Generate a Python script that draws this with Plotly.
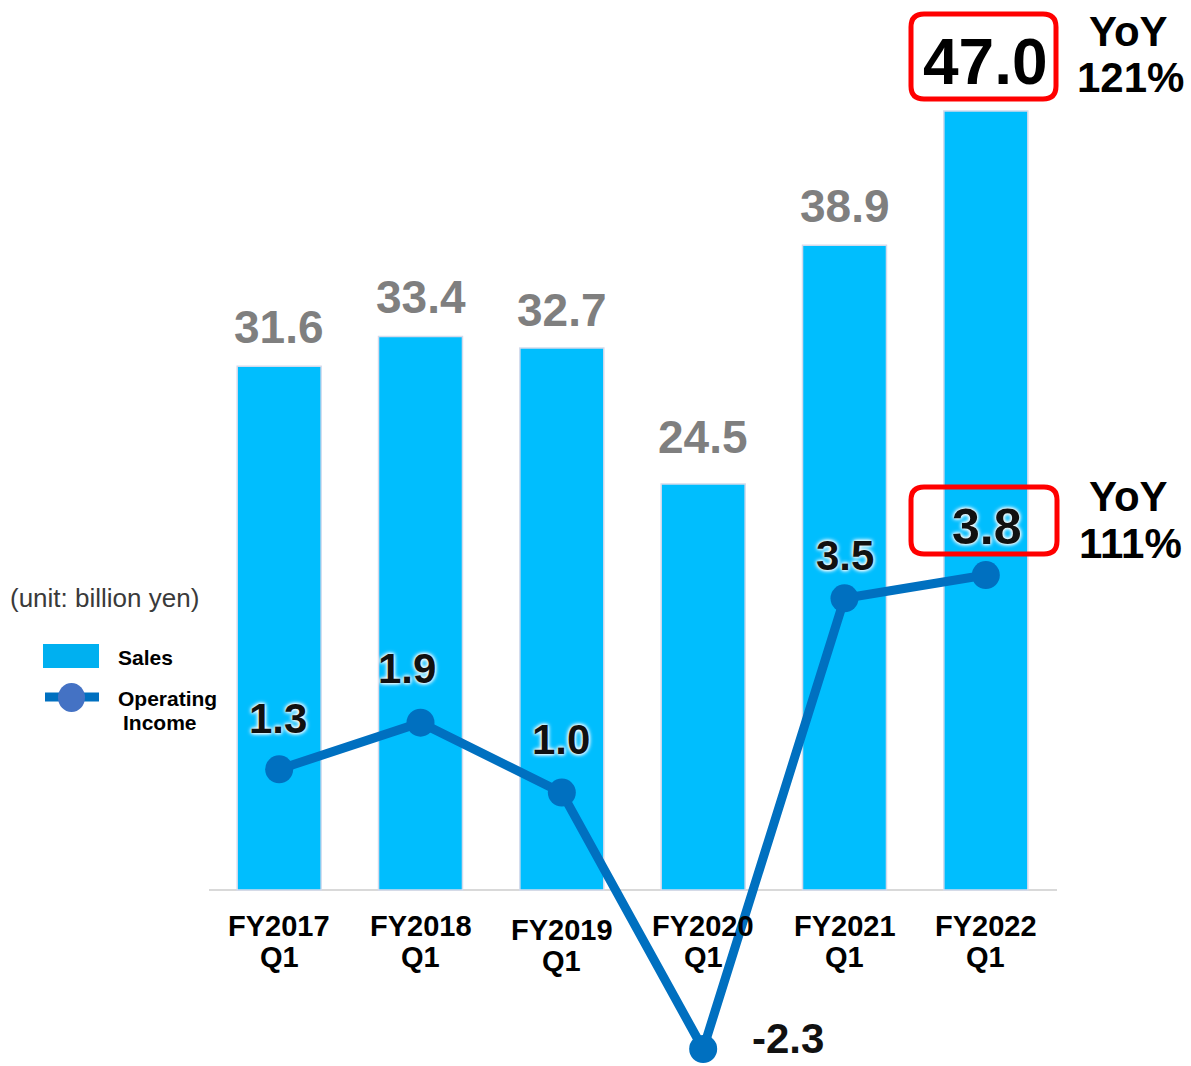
import plotly.graph_objects as go

# ---------------- data ----------------
categories = ["FY2017 Q1", "FY2018 Q1", "FY2019 Q1", "FY2020 Q1", "FY2021 Q1", "FY2022 Q1"]
tick_line1 = ["FY2017", "FY2018", "FY2019", "FY2020", "FY2021", "FY2022"]
tick_line2 = ["Q1", "Q1", "Q1", "Q1", "Q1", "Q1"]
sales = [31.6, 33.4, 32.7, 24.5, 38.9, 47.0]
operating_income = [1.3, 1.9, 1.0, -2.3, 3.5, 3.8]
yoy_sales = "121%"
yoy_oi = "111%"

# ---------------- style ----------------
W, H = 1191, 1066
FONT = "Liberation Sans, Arial, sans-serif"
BAR_COLOR = "#00BEFE"
LINE_COLOR = "#0070C0"


def px(x):
    return x / W


def py(y):
    return 1 - y / H


xs = list(range(len(categories)))

fig = go.Figure()
fig.add_trace(go.Bar(
    x=xs, y=sales, width=0.594,
    marker=dict(color=BAR_COLOR, line=dict(color="#D4DAEC", width=1.5)),
    yaxis="y", showlegend=False, hoverinfo="skip",
))
fig.add_trace(go.Scatter(
    x=xs, y=operating_income, mode="lines+markers",
    line=dict(color=LINE_COLOR, width=9),
    marker=dict(color=LINE_COLOR, size=28),
    yaxis="y2", showlegend=False, hoverinfo="skip",
))

annotations = []
shapes = []

# bar value labels (pixel offsets above bar top)
bar_dy = [39, 39, 38, 47, 39, 49]
for i, v in enumerate(sales):
    last = i == len(sales) - 1
    annotations.append(dict(
        x=i, y=v, xref="x", yref="y", text=f"{v:.1f}", showarrow=False,
        yanchor="middle", yshift=bar_dy[i],
        font=dict(family=FONT, size=64 if last else 46,
                  color="#000000" if last else "#7F7F7F", weight="bold"),
    ))

# operating income labels (pixel offsets)
oi_dx = [-1, -14, -1, 85, 0, 1]
oi_dy = [51, 54, 53, 11, 43, 48]
oi_size = [42, 42, 42, 42, 42, 50]
for i, v in enumerate(operating_income):
    annotations.append(dict(
        x=i, y=v, xref="x", yref="y2", text=f"{v:.1f}", showarrow=False,
        yanchor="middle", xanchor="center", xshift=oi_dx[i], yshift=oi_dy[i],
        font=dict(family=FONT, size=oi_size[i], color="#111111", weight="bold",
                  shadow="0 0 3px white, 0 0 4px white, 0 0 5px white"),
    ))

# category labels
for i in xs:
    extra = 4 if i == 2 else 0
    annotations.append(dict(
        x=i, y=py(926 + extra), xref="x", yref="paper", text=tick_line1[i],
        showarrow=False, yanchor="middle",
        font=dict(family=FONT, size=29, color="#000000", weight="bold")))
    annotations.append(dict(
        x=i, y=py(957 + extra), xref="x", yref="paper", text=tick_line2[i],
        showarrow=False, yanchor="middle",
        font=dict(family=FONT, size=29, color="#000000", weight="bold")))

# YoY texts
for txt, x, y in [("YoY", 1128, 31), (yoy_sales, 1130, 78), ("YoY", 1128, 496), (yoy_oi, 1130, 543)]:
    annotations.append(dict(
        x=px(x), y=py(y), xref="paper", yref="paper", text=txt, showarrow=False,
        xanchor="center", yanchor="middle",
        font=dict(family=FONT, size=42, color="#000000", weight="bold")))

# unit + legend
annotations.append(dict(
    x=px(8), y=py(598), xref="paper", yref="paper", text="(unit: billion yen)",
    showarrow=False, xanchor="left", yanchor="middle",
    font=dict(family=FONT, size=26, color="#3A3A3A")))
annotations.append(dict(
    x=px(116), y=py(657), xref="paper", yref="paper", text="Sales",
    showarrow=False, xanchor="left", yanchor="middle",
    font=dict(family=FONT, size=21, color="#000000", weight="bold")))
annotations.append(dict(
    x=px(116), y=py(698), xref="paper", yref="paper", text="Operating",
    showarrow=False, xanchor="left", yanchor="middle",
    font=dict(family=FONT, size=21, color="#000000", weight="bold")))
annotations.append(dict(
    x=px(160), y=py(722), xref="paper", yref="paper", text="Income",
    showarrow=False, xanchor="center", yanchor="middle",
    font=dict(family=FONT, size=21, color="#000000", weight="bold")))

shapes.append(dict(type="rect", xref="paper", yref="paper",
                   x0=px(43), x1=px(99), y0=py(644), y1=py(668),
                   fillcolor="#00B0F0", line=dict(width=0)))
shapes.append(dict(type="line", xref="paper", yref="paper",
                   x0=px(45), x1=px(99), y0=py(697), y1=py(697),
                   line=dict(color=LINE_COLOR, width=9)))
shapes.append(dict(type="circle", xref="paper", yref="paper",
                   x0=px(58), x1=px(85), y0=py(683), y1=py(712),
                   fillcolor="#4472C4", line=dict(width=0)))


def rounded_box(x0, y0, x1, y1, r):
    X0, X1 = px(x0), px(x1)
    Y0, Y1 = py(y0), py(y1)  # Y0 top, Y1 bottom
    rx, ry = r / W, r / H
    return (f"M {X0+rx},{Y0} L {X1-rx},{Y0} Q {X1},{Y0} {X1},{Y0-ry} "
            f"L {X1},{Y1+ry} Q {X1},{Y1} {X1-rx},{Y1} "
            f"L {X0+rx},{Y1} Q {X0},{Y1} {X0},{Y1+ry} "
            f"L {X0},{Y0-ry} Q {X0},{Y0} {X0+rx},{Y0} Z")


shapes.append(dict(type="path", xref="paper", yref="paper",
                   path=rounded_box(911, 14, 1056, 99, 13),
                   line=dict(color="#FF0000", width=5)))
shapes.append(dict(type="path", xref="paper", yref="paper",
                   path=rounded_box(911, 487, 1057, 554, 13),
                   line=dict(color="#FF0000", width=5)))

fig.update_layout(
    width=W, height=H,
    margin=dict(l=0, r=0, t=0, b=0),
    paper_bgcolor="white", plot_bgcolor="white",
    bargap=0.4,
    xaxis=dict(domain=[px(208.5), px(1056.5)], range=[-0.5, 5.5],
               showticklabels=False, showgrid=False, zeroline=False, showline=False),
    yaxis=dict(domain=[0, 1], range=[-(H - 890) / 16.574, 890 / 16.574],
               showticklabels=False, showgrid=False,
               zeroline=True, zerolinecolor="#D9D9D9", zerolinewidth=2, showline=False),
    yaxis2=dict(overlaying="y", side="right", range=[-(H - 870.3) / 77.7, 870.3 / 77.7],
                showticklabels=False, showgrid=False, zeroline=False, showline=False),
    annotations=annotations,
    shapes=shapes,
    showlegend=False,
)

fig.write_html("out.html")
